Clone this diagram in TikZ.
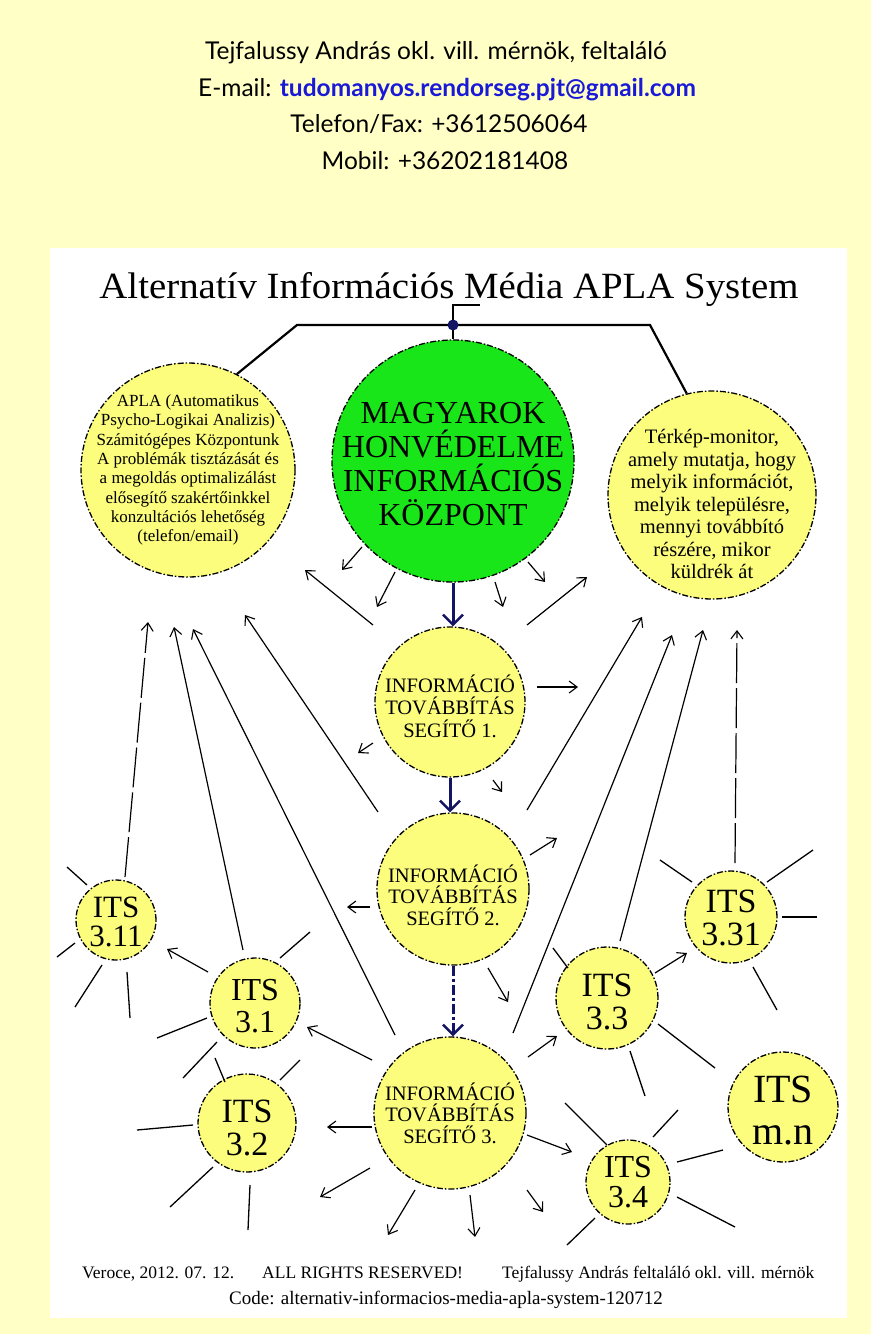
\documentclass[tikz,border=0pt]{standalone}
\usepackage{fontspec}
\setmainfont{Liberation Serif}
\newfontfamily\hdrfont{Lato}
\usetikzlibrary{arrows.meta}
\definecolor{pagebg}{RGB}{255,255,198}
\definecolor{bubyellow}{RGB}{252,252,125}
\definecolor{bubgreen}{RGB}{25,230,25}
\definecolor{navyc}{RGB}{20,20,100}
\definecolor{mailblue}{RGB}{25,25,215}
\tikzset{
  bub/.style={circle, draw=black, line width=1.3pt,
    dash pattern=on 6pt off 2pt on 1.5pt off 2pt, fill=bubyellow,
    inner sep=0pt, minimum size=#1},
  lbl/.style={align=center, inner sep=0pt},
  arr/.style={line width=1.2pt, -{Straight Barb[length=8pt,width=12pt,line width=1.1pt]}},
  ray/.style={line width=1.3pt},
  conn/.style={line width=2.2pt},
  navyarr/.style={draw=navyc, line width=3pt,
    -{Straight Barb[length=10pt,width=20pt,line width=2.4pt]}},
}
\begin{document}
\begin{tikzpicture}[x=1pt,y=-1pt]
\useasboundingbox (0,0) rectangle (871,1334);
\fill[pagebg] (0,0) rectangle (871,1334);
\fill[white] (50,248) rectangle (847,1318);

% header
\begin{scope}[every node/.style={anchor=base, inner sep=0pt, font=\hdrfont\fontsize{24.5}{28}\selectfont}]
\node (h1) at (436,59) {Tejfalussy András okl. vill. mérnök, feltaláló};
\node (h2) at (447,96) {E-mail: \textbf{\color{mailblue}tudomanyos.rendorseg.pjt@gmail.com}};
\node (h3) at (439,132) {Telefon/Fax: +3612506064};
\node (h4) at (445,169) {Mobil: +36202181408};
\end{scope}

% title
\node[anchor=base, inner sep=0pt, font=\fontsize{37}{40}\selectfont] (title) at (449,298)
  {\scalebox{1.05}[1]{Alternatív Információs Média APLA System}};

% main bubbles
\node[bub=214pt, label={[lbl, font=\fontsize{17}{19.3}\selectfont]center:{APLA (Automatikus\\Psycho-Logikai Analizis)\\Számitógépes Központunk\\A problémák tisztázását és\\a megoldás optimalizálást\\elősegítő szakértőinkkel\\konzultációs lehetőség\\(telefon/email)}}] (apla) at (188,470) {};
\node[bub=208pt, label={[lbl, yshift=-9pt, font=\fontsize{20.5}{22.5}\selectfont]center:{Térkép-monitor,\\amely mutatja, hogy\\melyik információt,\\melyik településre,\\mennyi továbbító\\részére, mikor\\küldrék át}}] (terk) at (712,495) {};
\node[bub=242pt, fill=bubgreen, label={[lbl, yshift=-3pt, font=\fontsize{32}{34}\selectfont]center:{MAGYAROK\\HONVÉDELME\\INFORMÁCIÓS\\KÖZPONT}}] (green) at (453,461) {};

\node[bub=150pt, label={[lbl, yshift=-4pt, font=\fontsize{20.5}{22.5}\selectfont]center:{INFORMÁCIÓ\\TOVÁBBÍTÁS\\SEGÍTŐ 1.}}] (c1) at (450,702) {};
\node[bub=152pt, label={[lbl, yshift=-6pt, font=\fontsize{20.5}{21.5}\selectfont]center:{INFORMÁCIÓ\\TOVÁBBÍTÁS\\SEGÍTŐ 2.}}] (c2) at (453,889) {};
\node[bub=152pt, label={[lbl, font=\fontsize{20.5}{21.5}\selectfont]center:{INFORMÁCIÓ\\TOVÁBBÍTÁS\\SEGÍTŐ 3.}}] (c3) at (450,1113) {};

% ITS bubbles
\node[bub=80pt, label={[lbl, yshift=-2pt, font=\fontsize{31}{29}\selectfont]center:{ITS\\3.11}}] (i311) at (116,920) {};
\node[bub=90pt, label={[lbl, yshift=-3pt, font=\fontsize{32}{32}\selectfont]center:{ITS\\3.1}}] (i31) at (255,1003) {};
\node[bub=98pt, label={[lbl, yshift=-5pt, font=\fontsize{34}{33}\selectfont]center:{ITS\\3.2}}] (i32) at (247,1123) {};
\node[bub=102pt, label={[lbl, yshift=-4pt, font=\fontsize{34}{33}\selectfont]center:{ITS\\3.3}}] (i33) at (607,998) {};
\node[bub=92pt, label={[lbl, yshift=-1pt, font=\fontsize{34}{33}\selectfont]center:{ITS\\3.31}}] (i331) at (731,917) {};
\node[bub=84pt, label={[lbl, font=\fontsize{32}{30}\selectfont]center:{ITS\\3.4}}] (i34) at (628,1182) {};
\node[bub=110pt, label={[lbl, yshift=-4pt, font=\fontsize{40}{42}\selectfont]center:{ITS\\m.n}}] (imn) at (783,1107) {};

% top connectors
\coordinate (hub) at (453,325);
\coordinate (lbend) at (297,325);
\coordinate (rbend) at (650,325);
\coordinate (hubup) at (453,305);
\coordinate (hubr) at (480,305);
\draw[conn] (apla.63) -- (lbend) -- (hub) -- (rbend) -- (terk.104);
\draw[conn] (green.north) -- (hub) -- (hubup) -- (hubr);
\fill[navyc] (hub) circle (5.5pt);

% thick navy arrows
\draw[navyarr] (green.south) -- (green.south |- c1.north);
\draw[navyarr] (c1.south) -- (c1.south |- c2.north);
\draw[navyarr, dash pattern=on 10pt off 3pt on 3pt off 3pt] (c2.south) -- (c2.south |- c3.north);

% thin arrows: start node / shift, end node / shift
\foreach \p/\a/\b/\q/\c/\d in {
  green/-91/86/green/-111/109,
  green/-58/111/green/-76/146,
  green/42/121/green/50/146,
  green/75/101/green/92/121,
  c1/-77/-77/apla/117/100,
  c1/77/-77/terk/-125/82,
  c1/87/-15/c1/128/-15,
  c1/-77/41/c1/-92/51,
  c1/43/78/c1/52/90,
  c2/-83/18/c2/-106/18,
  c2/77/-34/c2/104/-51,
  c2/35/79/c2/55/113,
  c2/-75/-77/apla/57/145,
  c2/74/-79/terk/-70/122,
  c3/-78/-53/i31/52/24,
  c3/-78/14/i32/80/4,
  c3/-80/55/c3/-130/84,
  c3/-35/77/c3/-62/122,
  c3/20/82/c3/25/124,
  c3/77/77/c3/93/99,
  c3/77/22/i34/-56/-30,
  c3/78/-56/i33/-50/38,
  c3/-55/-78/apla/5/159,
  c3/63/-80/terk/-40/140,
  i31/-12/-53/apla/-14/157,
  i31/-47/-31/i311/51/29,
  i33/13/-57/terk/-9/135,
  i33/48/-25/i331/-44/36}
  \draw[arr] ([shift={(\a,\b)}]\p.center) -- ([shift={(\c,\d)}]\q.center);

\draw[arr, dash pattern=on 40pt off 5pt] ([shift={(9,-43)}]i311.center) -- ([shift={(-40,152)}]apla.center);
\draw[arr, dash pattern=on 40pt off 5pt] ([shift={(4,-54)}]i331.center) -- ([shift={(25,135)}]terk.center);

% rays
\foreach \p/\a/\b/\c/\d in {
  i311/-49/-53/-29/-35, i311/-59/37/-41/23, i311/-41/87/-14/45, i311/11/52/14/98,
  i31/25/-45/55/-71, i31/-98/35/-48/15, i31/-72/75/-38/39,
  i32/33/-43/53/-63, i32/-32/-65/-22/-41, i32/-110/7/-54/2, i32/-77/84/-34/44, i32/3/62/1/107,
  i33/-54/-50/-39/-30, i33/51/26/108/70, i33/23/53/38/98,
  i331/-71/-57/-39/-35, i331/36/-35/82/-67, i331/51/0/86/0, i331/22/50/46/93,
  i34/-63/-79/-21/-37, i34/25/-45/50/-72, i34/49/-20/95/-32, i34/49/15/107/45, i34/-61/63/-33/36}
  \draw[ray] ([shift={(\a,\b)}]\p.center) -- ([shift={(\c,\d)}]\p.center);

% footer
\begin{scope}[every node/.style={inner sep=0pt, font=\fontsize{17.5}{20}\selectfont}]
\node[anchor=base west] (f1) at (82,1278) {Veroce, 2012. 07. 12.};
\node[anchor=base west] (f2) at (262,1278) {ALL RIGHTS RESERVED!};
\node[anchor=base west] (f3) at (502,1278) {Tejfalussy András feltaláló okl. vill. mérnök};
\node[anchor=base, font=\fontsize{19}{21}\selectfont] (f4) at (446,1304) {Code: alternativ-informacios-media-apla-system-120712};
\end{scope}
\end{tikzpicture}
\end{document}
